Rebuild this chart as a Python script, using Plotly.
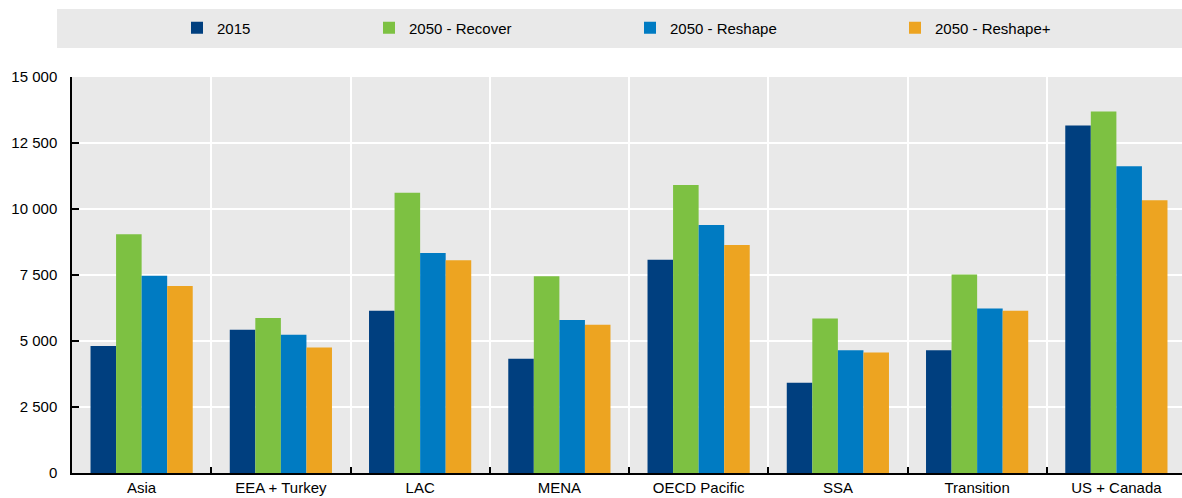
import plotly.graph_objects as go

categories = ["Asia", "EEA + Turkey", "LAC", "MENA", "OECD Pacific", "SSA", "Transition", "US + Canada"]
series_names = ["2015", "2050 - Recover", "2050 - Reshape", "2050 - Reshape+"]
v2015 = [4810, 5430, 6150, 4330, 8080, 3420, 4650, 13160]
v_recover = [9040, 5870, 10620, 7450, 10910, 5850, 7520, 13690]
v_reshape = [7470, 5240, 8330, 5800, 9390, 4650, 6230, 11620]
v_reshape_plus = [7080, 4750, 8060, 5620, 8640, 4560, 6150, 10330]
y_ticks = [0, 2500, 5000, 7500, 10000, 12500, 15000]

colors = ["#003F7F", "#7DC142", "#007BC2", "#EDA421"]
values = [v2015, v_recover, v_reshape, v_reshape_plus]
legend_ids = ["legend", "legend2", "legend3", "legend4"]

W, H = 1186, 498
L, T, B = 72, 77, 25
PW = W - L
PH = H - T - B
text_starts = [217, 409, 670, 935]
legend_x = [(s - 40 - L) / PW for s in text_starts]

FONT = "Liberation Sans, Arial, sans-serif"

fig = go.Figure()
for name, vals, col, lg in zip(series_names, values, colors, legend_ids):
    fig.add_trace(go.Bar(x=categories, y=vals, name=name, marker=dict(color=col, line=dict(width=0)),
                         legend=lg, showlegend=True))

legend_y = 1 + (T - 28) / PH
layout_legends = {}
for lg, lx in zip(legend_ids, legend_x):
    layout_legends[lg] = dict(x=lx, y=legend_y, xanchor="left", yanchor="middle",
                              bgcolor="rgba(0,0,0,0)", borderwidth=0,
                              font=dict(family=FONT, size=15, color="#000000"))

fig.update_layout(
    width=W, height=H,
    margin=dict(l=L, r=0, t=T, b=B, autoexpand=False),
    showlegend=True,
    paper_bgcolor="white",
    plot_bgcolor="#E9E9E9",
    barmode="group",
    bargap=0.266,
    bargroupgap=0,
    separators=". ",
    font=dict(family=FONT, size=15, color="#000000"),
    shapes=[dict(type="rect", xref="paper", yref="paper",
                 x0=(57 - L) / PW, x1=1.0,
                 y0=1 + (T - 48) / PH, y1=1 + (T - 9) / PH,
                 fillcolor="#E9E9E9", line=dict(width=0), layer="below")],
    **layout_legends,
)

fig.update_xaxes(
    type="category",
    tickson="boundaries",
    ticks="inside", ticklen=6, tickcolor="#000000", tickwidth=1.5,
    showline=True, linecolor="#000000", linewidth=1.5,
    showgrid=True, gridcolor="#FFFFFF", gridwidth=1.5,
    tickfont=dict(family=FONT, size=15, color="#000000"),
)
fig.update_yaxes(
    range=[0, 15000],
    tickvals=y_ticks,
    tickformat=",d",
    ticks="inside", ticklen=7, tickcolor="#000000", tickwidth=1.5,
    showline=True, linecolor="#000000", linewidth=1.5,
    showgrid=True, gridcolor="#FFFFFF", gridwidth=1.5,
    zeroline=False,
    ticklabelstandoff=10,
    tickfont=dict(family=FONT, size=15, color="#000000"),
)

fig.write_html("out.html",
               config={"displayModeBar": False},
               post_script="document.body.style.margin='0';document.body.style.overflow='hidden';")
